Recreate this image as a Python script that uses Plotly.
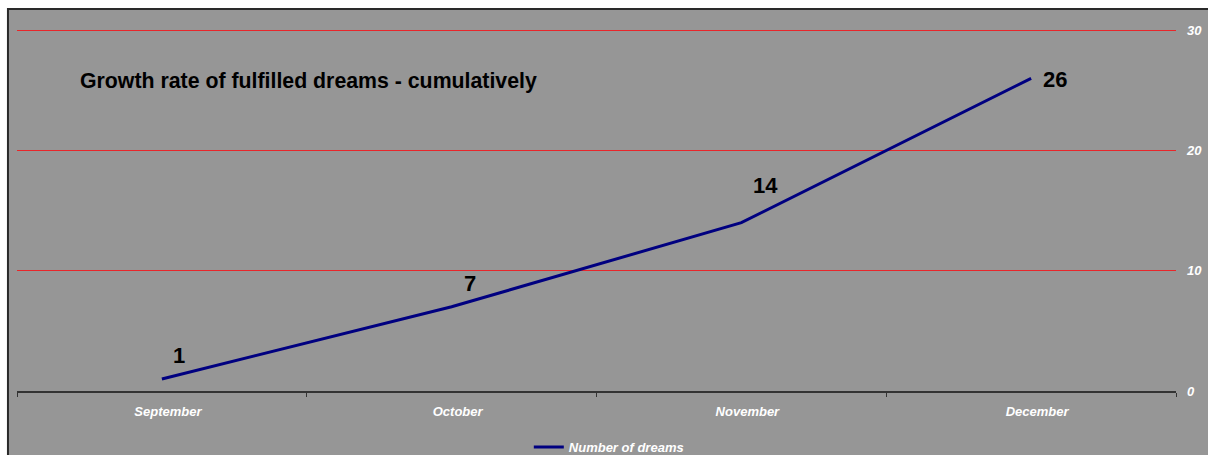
import plotly.graph_objects as go

months = ["September", "October", "November", "December"]
dreams = [1, 7, 14, 26]
series_name = "Number of dreams"
title_text = "Growth rate of fulfilled dreams - cumulatively"
y_ticks = [0, 10, 20, 30]

GRAY = "#969696"
FONT = "Liberation Sans, Arial, sans-serif"

fig = go.Figure()
fig.add_trace(go.Scatter(
    x=months, y=dreams, mode="lines", name=series_name,
    line=dict(color="#000080", width=3),
))

# data labels (manual offsets as in the original)
label_shifts = [(17, 23), (18, 23), (24, 37), (24, -1)]
for m, v, (dx, dy) in zip(months, dreams, label_shifts):
    fig.add_annotation(x=m, y=v, text=str(v), showarrow=False,
                       xshift=dx, yshift=dy,
                       font=dict(family=FONT, size=22, color="black", weight="bold"))

fig.add_annotation(xref="paper", yref="paper", x=0.0527, y=0.856,
                   xanchor="left", yanchor="middle", showarrow=False,
                   text=title_text,
                   font=dict(family=FONT, size=21.3, color="black", weight="bold"))

# background frame
fig.add_shape(type="rect", xref="paper", yref="paper",
              x0=-0.0078, x1=1.2, y0=-0.5, y1=1.0554,
              fillcolor=GRAY, line=dict(color="#2a2a2a", width=2), layer="below")

fig.update_layout(
    width=1208, height=455,
    margin=dict(l=17, r=32, t=29, b=64, autoexpand=False),
    paper_bgcolor="white", plot_bgcolor=GRAY,
    showlegend=True,
    legend=dict(orientation="h", x=0.4416, xanchor="left",
                yref="container", y=0.0176, yanchor="middle",
                bgcolor="rgba(0,0,0,0)",
                font=dict(family=FONT, size=13, color="white", weight="bold", style="italic")),
    xaxis=dict(type="category", range=[-0.5, 3.5], showgrid=False,
               showline=True, linecolor="#333333", linewidth=1.5,
               ticks="outside", ticklen=4, tickcolor="#333333", tickson="boundaries",
               tickfont=dict(family=FONT, size=13, color="white", weight="bold", style="italic"),
               ticklabelstandoff=8, ticklabelshift=6, fixedrange=True, automargin=False),
    yaxis=dict(range=[0, 30.1], side="right", tickvals=y_ticks,
               showgrid=True, gridcolor="#e8262a", gridwidth=1,
               zeroline=False, showline=False, ticks="",
               tickfont=dict(family=FONT, size=13, color="white", weight="bold", style="italic"),
               ticklabelstandoff=10, fixedrange=True, automargin=False),
)

fig.write_html("out.html", config={"displayModeBar": False},
               post_script="document.body.style.margin='0';")
